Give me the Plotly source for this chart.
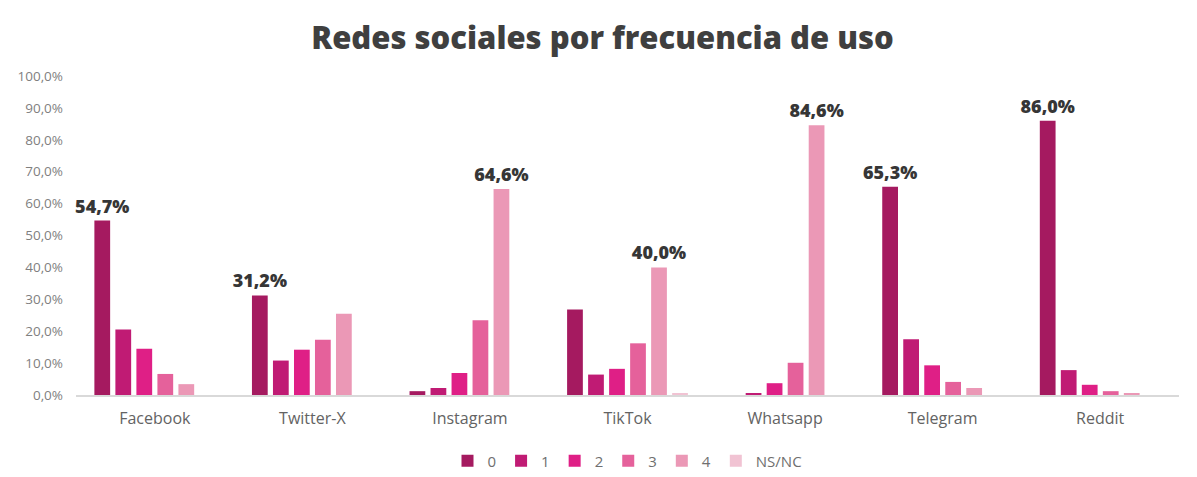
import plotly.graph_objects as go

categories = ["Facebook", "Twitter-X", "Instagram", "TikTok", "Whatsapp", "Telegram", "Reddit"]
series_names = ["0", "1", "2", "3", "4", "NS/NC"]

freq_0 = [54.7, 31.2, 1.2, 26.8, 0.0, 65.3, 86.0]
freq_1 = [20.5, 10.8, 2.2, 6.4, 0.5, 17.5, 7.8]
freq_2 = [14.5, 14.2, 6.9, 8.2, 3.7, 9.3, 3.2]
freq_3 = [6.6, 17.3, 23.4, 16.2, 10.1, 4.1, 1.2]
freq_4 = [3.4, 25.5, 64.6, 40.0, 84.6, 2.2, 0.5]
freq_nsnc = [0.0, 0.0, 0.0, 0.4, 0.0, 0.0, 0.0]

colors = ["#A51A60", "#C01B74", "#DF1F86", "#E5619B", "#EB98B6", "#F1C3D3"]

all_series = [freq_0, freq_1, freq_2, freq_3, freq_4, freq_nsnc]
group_max = [max(s[i] for s in all_series) for i in range(len(categories))]


def fmt(v):
    return f"{v:.1f}%".replace(".", ",")


fig = go.Figure()
for name, vals, col in zip(series_names, all_series, colors):
    texts = [fmt(v) if v == group_max[i] else "" for i, v in enumerate(vals)]
    fig.add_trace(go.Bar(
        name=name, x=categories, y=vals, marker_color=col,
        marker_line_width=0,
        text=texts, textposition="outside", constraintext="none",
        cliponaxis=False,
        textfont=dict(family="Open Sans", size=18, color="#363636", weight=800),
    ))

fig.update_layout(
    width=1189, height=469,
    paper_bgcolor="white", plot_bgcolor="white",
    separators=",.",
    barmode="group", bargap=0.2, bargroupgap=0.25,
    margin=dict(l=68, r=18, t=68, b=82, autoexpand=False),
    title=dict(text="Redes sociales por frecuencia de uso", x=0.5, xanchor="center",
               y=0.936, yanchor="middle",
               font=dict(family="Open Sans", size=31, color="#3f3f3f", weight=800)),
    font=dict(family="Open Sans", color="#7a7a7a"),
    showlegend=True,
    legend=dict(orientation="h", x=0.5, xanchor="center", y=-0.207, yanchor="middle",
                font=dict(size=15, color="#6f6f6f"), itemwidth=30,
                traceorder="normal"),
    xaxis=dict(showline=True, linecolor="#d9d9d9", linewidth=1.5, ticks="",
               automargin=False, ticklabelstandoff=8,
               tickfont=dict(size=16, color="#636363"), showgrid=False),
    yaxis=dict(range=[0, 100], dtick=10, tickformat=".1f", ticksuffix="%",
               automargin=False, ticklabelstandoff=12,
               showgrid=False, zeroline=False, showline=False, ticks="",
               tickfont=dict(size=13.5, color="#7f7f7f")),
)

fig.write_html("out.html")
